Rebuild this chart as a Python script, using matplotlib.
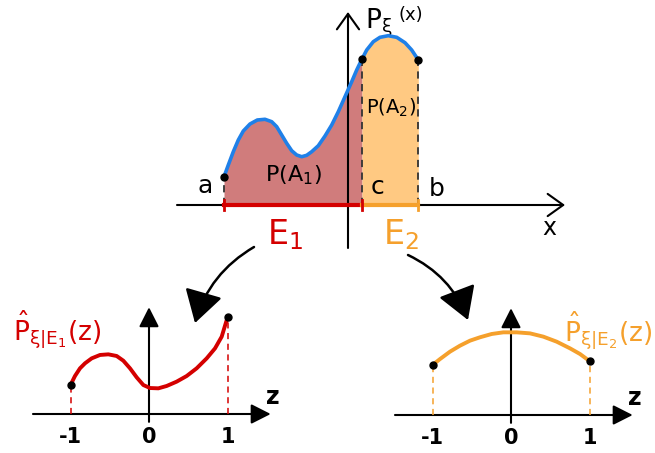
import numpy as np
import matplotlib.pyplot as plt
from matplotlib.patches import ConnectionPatch

plt.rcParams['mathtext.default'] = 'regular'

# density P_xi(x) on the big panel (origin at the y-axis)
px_x = [-124, -119.7, -114.7, -109.7, -104.7, -98, -90.7, -83, -76.3, -71.3,
        -66.3, -61.3, -56.3, -51.3, -46.3, -41.3, -36.3, -29.7, -23, -16.3,
        -9.7, -3, 3.7, 8.7, 14, 18.7, 25.3, 32, 40.3, 48.7, 57, 63.7, 70.3]
px_y = [28.3, 40, 53.3, 65, 74, 81, 85, 85.7, 83.3, 78.3,
        70, 61.7, 54.3, 50, 48.3, 49.7, 53.3, 59.3, 69, 80,
        93.3, 108.3, 123.3, 135, 146, 155, 163.3, 167.7, 169.3, 167.7, 162.3, 155, 145]
x_a, x_c, x_b = -124, 14, 70

# rescaled densities on [-1, 1]
z1 = [-1, -0.943, -0.879, -0.815, -0.730, -0.624, -0.518, -0.412, -0.327, -0.242,
      -0.157, -0.072, 0.013, 0.119, 0.225, 0.352, 0.480, 0.607, 0.735, 0.841, 0.926, 1]
p1 = [0.369, 0.484, 0.582, 0.646, 0.709, 0.752, 0.760, 0.739, 0.679, 0.582,
      0.467, 0.369, 0.331, 0.327, 0.357, 0.412, 0.484, 0.582, 0.709, 0.836, 0.985, 1.23]
z2 = [-1, -0.904, -0.777, -0.650, -0.522, -0.395, -0.246, -0.098, 0.072, 0.242,
      0.412, 0.582, 0.752, 0.879, 1]
p2 = [0.637, 0.713, 0.807, 0.883, 0.947, 0.990, 1.032, 1.053, 1.053, 1.040,
      0.998, 0.934, 0.849, 0.777, 0.688]
ticks = [-1, 0, 1]

BLUE = '#1f80e8'
RED = '#d40000'
ORANGE = '#f5a02c'
RED_FILL = '#d07c7c'
ORANGE_FILL = '#ffc982'

W, H = 655, 453
fig = plt.figure(figsize=(W / 100, H / 100), dpi=100)


def place(box, origin, scale):
    # box = (left, top, right, bottom) in pixels, origin in pixels
    l, t, r, b = box
    ax = fig.add_axes([l / W, 1 - b / H, (r - l) / W, (b - t) / H])
    ax.set_xlim((l - origin[0]) / scale, (r - origin[0]) / scale)
    ax.set_ylim((origin[1] - b) / scale, (origin[1] - t) / scale)
    ax.axis('off')
    return ax


def axis_arrows(ax, x0, x1, y0, y1, style, lw):
    ap = dict(arrowstyle=style, color='black', lw=lw, shrinkA=0, shrinkB=0,
              mutation_scale=16)
    ax.annotate('', xy=(x1, 0), xytext=(x0, 0), arrowprops=ap, annotation_clip=False)
    ax.annotate('', xy=(0, y1), xytext=(0, y0), arrowprops=ap, annotation_clip=False)


# ---- top panel ----
top = place((170, 5, 570, 255), (348, 205), 1.0)
xs = np.array(px_x)
ys = np.array(px_y)
top.fill_between(xs, 0, ys, where=xs <= x_c, color=RED_FILL, lw=0, zorder=1)
top.fill_between(xs, 0, ys, where=xs >= x_c, color=ORANGE_FILL, lw=0, zorder=1)
axis_arrows(top, -171, 217, -43, 193, '->,head_length=0.7,head_width=0.5', 1.5)
top.plot(xs, ys, color=BLUE, lw=2.6, solid_capstyle='round', zorder=4)
for xv, yv in [(x_a, px_y[0]), (x_c, px_y[px_x.index(x_c)]), (x_b, px_y[-1])]:
    top.plot([xv, xv], [0, yv], color='#333333', lw=1.3, ls=(0, (4, 3)), zorder=3)
    top.plot(xv, yv, 'o', color='black', ms=5, zorder=5)
top.plot([x_a, x_c], [0, 0], color=RED, lw=3, zorder=4)
top.plot([x_c, x_b], [0, 0], color=ORANGE, lw=3, zorder=4)
for xv, col in [(x_a, RED), (x_c, RED), (x_b, ORANGE)]:
    top.plot([xv, xv], [-5, 5], color=col, lw=2, zorder=4)
top.text(-143, 19, 'a', fontsize=18, ha='center', va='center')
top.text(29, 18, 'c', fontsize=18, ha='center', va='center')
top.text(89, 16, 'b', fontsize=18, ha='center', va='center')
top.text(201, -23, 'x', fontsize=17, ha='center', va='center')
top.text(-55, 30, r'$P(A_1)$', fontsize=16, ha='center', va='center')
top.text(43, 97, r'$P(A_2)$', fontsize=14, ha='center', va='center')
top.text(17, 182, r'$P_\xi$', fontsize=19, ha='left', va='center')
top.text(63, 190, '(x)', fontsize=13, ha='center', va='center')
top.text(-63, -30, r'$E_1$', fontsize=24, color=RED, ha='center', va='center')
top.text(53, -30, r'$E_2$', fontsize=24, color=ORANGE, ha='center', va='center')

# ---- bottom panels ----
S = 78.5
left = place((10, 300, 290, 450), (149, 414), S)
right = place((385, 300, 655, 450), (511, 415), S)

for ax, zz, pp, col, lbl, lpos in [
        (left, z1, p1, RED, r'$\hat{P}_{\xi|E_1}(z)$', (-1.73, 1.08)),
        (right, z2, p2, ORANGE, r'$\hat{P}_{\xi|E_2}(z)$', (0.68, 1.08))]:
    axis_arrows(ax, -1.478, 1.55, -0.10, 1.36, '-|>,head_length=0.75,head_width=0.38', 1.5)
    ax.plot(zz, pp, color=col, lw=2.8, solid_capstyle='round', zorder=4)
    for zv, pv in [(zz[0], pp[0]), (zz[-1], pp[-1])]:
        ax.plot([zv, zv], [0, pv], color=col, lw=1.1, ls=(0, (4, 3)), zorder=3)
        ax.plot(zv, pv, 'o', color='black', ms=5, zorder=5)
    for t in ticks:
        ax.text(t, -0.29, f'{t}', fontsize=15, fontweight='bold', ha='center', va='center')
    ax.text(1.58, 0.22, 'z', fontsize=17, fontweight='bold', ha='center', va='center')
    ax.text(lpos[0], lpos[1], lbl, fontsize=19, color=col, ha='left', va='center')

# arrows from the intervals down to the rescaled panels
for xyA, axB, xyB, rad in [((-94, -42), left, (0.586, 1.159), 0.2),
                            ((60, -50), right, (-0.548, 1.21), -0.2)]:
    con = ConnectionPatch(xyA=xyA, coordsA=top.transData, xyB=xyB, coordsB=axB.transData,
                          arrowstyle='-|>,head_length=1.0,head_width=0.6', mutation_scale=20,
                          connectionstyle=f'arc3,rad={rad}', color='black', lw=1.8)
    fig.add_artist(con)

fig.savefig('out.png', dpi=100)
